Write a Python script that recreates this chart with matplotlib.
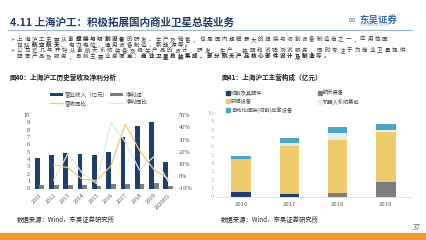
import numpy as np
import matplotlib
matplotlib.use('Agg')
import matplotlib.pyplot as plt
from matplotlib.lines import Line2D
from matplotlib.patches import Rectangle

plt.rcParams['font.family'] = ['Noto Sans CJK SC', 'DejaVu Sans']

# left chart data (亿元, %)
years = ['2011', '2012', '2013', '2014', '2015', '2016', '2017', '2018', '2019', '2020H1']
revenue = [4.1, 4.5, 4.86, 4.7, 4.55, 4.95, 7.04, 8.54, 9.0, 3.55]
profit = [0.45, 0.42, 0.46, 0.42, 0.4, 0.62, 0.6, 0.66, 0.75, 0.3]
rev_yoy = [np.nan, 9.5, 7.0, -2.5, -3.5, 8.5, 42.5, 21.0, 5.5, -2.0]
profit_yoy = [np.nan, -3.0, 18.5, 2.5, -6.0, 44.0, 28.0, 5.0, 16.0, -4.0]

# right chart data (亿元)
seg_years = ['2016', '2017', '2018', '2019']
seg_names = ['切割及其配件', '弧焊设备', '自动化焊接(切割)成套设备', '航天装备', '机器人系统集成']
cut_parts = [0.48, 0.32, 0.0, 0.0]
aerospace = [0.0, 0.0, 0.4, 1.79]
arc_weld = [4.05, 5.67, 6.35, 5.95]
robot = [0.0, 0.44, 0.91, 0.28]
auto_weld = [0.32, 0.56, 0.67, 0.71]

NAVY = '#1f3d6d'
GRAY = '#7b7d80'
YELLOW = '#eecb6c'
LIGHT = '#e4edf4'
TEAL = '#4ba5c4'

W, H = 426, 240
fig = plt.figure(figsize=(4.26, 2.4), dpi=100)
fig.patch.set_facecolor('white')


def fx(px):
    return px / W


def fy(py):
    return 1 - py / H


def rich(x, y, parts, size, pitch):
    # full-width chars on a fixed pitch, some runs bold
    cx = x
    for txt, bold in parts:
        for ch in txt:
            fig.text(fx(cx), fy(y), ch, fontsize=size, va='center', ha='left',
                     color='#1a1a1a' if bold else '#3a3a3a',
                     fontweight='bold' if bold else 'normal')
            cx += pitch


# header
fig.text(fx(10), fy(22), '4.11 上海沪工：积极拓展国内商业卫星总装业务', fontsize=7.6,
         fontweight='bold', color='#1f3864', va='center')
fig.text(fx(352), fy(20), '∞', fontsize=7, color='#3b6fb6', va='center', ha='center',
         family='DejaVu Sans')
fig.text(fx(360), fy(19.5), '东吴证券', fontsize=6.8, fontweight='bold', color='#3b6fb6', va='center')
fig.text(fx(360), fy(25.5), 'SOOCHOW SECURITIES', fontsize=1.8, color='#8da2c0', va='center',
         family='DejaVu Sans')
fig.add_artist(Line2D([fx(8), fx(412)], [fy(30), fy(30)], color='#9fb4cf', lw=0.8))

# bullets
fs = 4.0
pitch = 7.3
fig.text(fx(10), fy(39.5), '➢', fontsize=3.6, color='#262626', va='center', family='DejaVu Sans')
rich(17, 39.5, [('上海沪工主要从事', False), ('焊接与切割设备', True),
                ('的研发、生产及销售，也是国内规模最大的焊接与切割设备制造商之一，应用范围', False)], fs, pitch)
rich(17, 45.2, [('包括', False), ('航空航天', True), ('、电力电站、通用设备制造、新能源等。', False)], fs, pitch)
fig.text(fx(10), fy(50.8), '➢', fontsize=3.6, color='#262626', va='center', family='DejaVu Sans')
rich(17, 50.8, [('公司近几年开始从事航天系统装备及相关产品的设计、研发、生产、装配和试验测试服务，同时专注于为商业卫星提供', False)],
     fs, 7.5)
rich(17, 56.4, [('配套产品及服务，目前主要业务覆盖：', False), ('商业卫星总装集成、部分航天产品核心部件设计及制造', True),
                ('等。', False)], fs, pitch)

# captions
fig.text(fx(10), fy(77.5), '图40：上海沪工历史营收及净利分析', fontsize=4.8, fontweight='bold',
         color='#1f1f1f', va='center')
fig.text(fx(222), fy(77.5), '图41：上海沪工主营构成（亿元）', fontsize=4.8, fontweight='bold',
         color='#1f1f1f', va='center')

# ---- left chart
ax = fig.add_axes([fx(33), fy(188.5), fx(176) - fx(33), fy(115) - fy(188.5)])
x = np.arange(len(years))
b1 = ax.bar(x - 0.16, revenue, width=0.34, color=NAVY)
b2 = ax.bar(x + 0.17, profit, width=0.34, color=GRAY)
ax.set_xlim(-0.45, 9.55)
ax.set_ylim(0, 10)
ax.set_yticks(range(0, 11))
ax.set_xticks(x)
ax.set_xticklabels(years, rotation=45, ha='right', va='top', rotation_mode='anchor')
ax2 = ax.twinx()
l1, = ax2.plot(x, rev_yoy, color=YELLOW, lw=0.9)
l2, = ax2.plot(x, profit_yoy, color='#dde8f2', lw=0.9)
ax2.set_ylim(-10, 50)
ax2.set_yticks(range(-10, 51, 10))
ax2.set_yticklabels([f'{v}%' for v in range(-10, 51, 10)])
for a in (ax, ax2):
    for s in a.spines.values():
        s.set_visible(False)
    a.tick_params(length=0, labelsize=4.6, labelcolor='#505050', pad=2)
    for lab in a.get_xticklabels() + a.get_yticklabels():
        lab.set_family('Liberation Serif')
ax.tick_params(axis='x', pad=3)
fig.legend([b1, l1, b2, l2], ['营业收入（亿元）', '营收同比', '净利润', '净利同比'], ncol=2,
           loc='upper left', bbox_to_anchor=(fx(47), fy(89)), frameon=False, fontsize=4,
           handlelength=2.3, handleheight=0.5, handletextpad=0.4, columnspacing=0.3,
           labelspacing=0.45, borderpad=0, labelcolor='#404040')

# ---- right chart
bx = fig.add_axes([fx(215), fy(196.5), fx(410) - fx(215), fy(113) - fy(196.5)])
xs = np.arange(len(seg_years))
bottom = np.zeros(len(seg_years))
for vals, col in [(cut_parts, NAVY), (aerospace, GRAY), (arc_weld, YELLOW), (robot, LIGHT), (auto_weld, TEAL)]:
    bx.bar(xs, vals, bottom=bottom, width=0.4, color=col)
    bottom += np.array(vals)
bx.set_xlim(-0.54, 3.5)
bx.set_ylim(0, 10)
bx.set_yticks(range(0, 11))
bx.set_xticks(xs)
bx.set_xticklabels(seg_years)
for s in ['top', 'right', 'left']:
    bx.spines[s].set_visible(False)
bx.spines['bottom'].set_color('#d9d9d9')
bx.spines['bottom'].set_linewidth(0.6)
bx.tick_params(length=0, labelsize=4.3, labelcolor='#595959')
bx.tick_params(axis='y', labelcolor='#b0b0b0', pad=1)
for lab in bx.get_yticklabels():
    lab.set_family('Liberation Serif')
bx.tick_params(axis='x', pad=4)
h = [Line2D([], [], marker='s', ls='none', ms=2.2, color=c) for c in [NAVY, YELLOW, TEAL, GRAY, LIGHT]]
fig.legend(h, seg_names, ncol=2, loc='upper left', bbox_to_anchor=(fx(224), fy(87.5)), frameon=False,
           fontsize=3.8, handlelength=0.5, handletextpad=0.3, columnspacing=5.0, labelspacing=0.6,
           borderpad=0, labelcolor='#404040')

# sources
fig.text(fx(17), fy(220), '数据来源：Wind，东吴证券研究所', fontsize=4.6, color='#262626', va='center')
fig.text(fx(221), fy(220), '数据来源：Wind，东吴证券研究所', fontsize=4.6, color='#262626', va='center')

# footer
fig.add_artist(Rectangle((0, 0), 1, fy(233), transform=fig.transFigure, color='#f29a2e', lw=0))
fig.text(fx(420), fy(228), '37', fontsize=5.5, color='#404040', va='center', ha='right',
         family='Liberation Serif')

fig.savefig('out.png', dpi=100, facecolor='white')
